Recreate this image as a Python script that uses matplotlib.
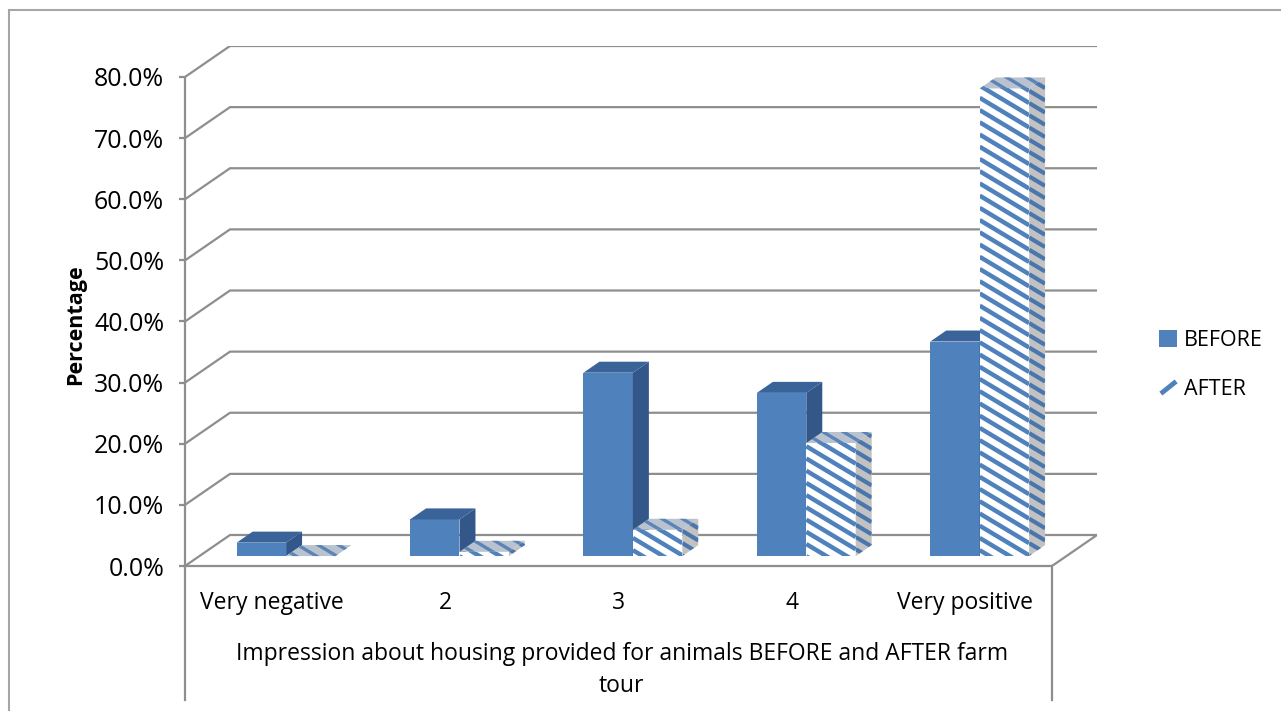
import numpy as np
import matplotlib.pyplot as plt
from matplotlib.patches import Polygon, Rectangle, Patch
from matplotlib.lines import Line2D
from matplotlib.collections import LineCollection

categories = ["Very negative", "2", "3", "4", "Very positive"]
before = [2.2, 6.0, 30.0, 26.7, 35.1]
after = [0.0, 0.7, 4.3, 18.5, 76.5]
series_names = ["BEFORE", "AFTER"]
y_ticks = [0, 10, 20, 30, 40, 50, 60, 70, 80]
y_tick_labels = ["%.1f%%" % v for v in y_ticks]
x_title = "Impression about housing provided for animals BEFORE and AFTER farm\ntour"

plt.rcParams['font.family'] = ['Open Sans', 'DejaVu Sans']

BLUE = '#4F81BD'
BLUE_SIDE = '#34578A'
BLUE_TOP = '#3A6399'
GRID = '#8E8E8E'

W, H = 1281, 711
fig = plt.figure(figsize=(W / 100, H / 100), dpi=100)
left, right, bottom, top = 185, 1097, 566, 46
ax = fig.add_axes([left / W, 1 - bottom / H, (right - left) / W, (bottom - top) / H])

# fake 3d: depth of the floor in data units
dx, dy = 0.2595, 5.07
t0, td = 0.32, 0.355   # where the bars start in depth, and how deep they are
bw = 0.285
ax.set_xlim(-0.5, 4.5 + dx)
ax.set_ylim(0, 80 + dy)

for s in ['top', 'right']:
    ax.spines[s].set_visible(False)
ax.spines['left'].set_bounds(0, 80)
ax.spines['bottom'].set_bounds(-0.5, 4.5)
for s in ['left', 'bottom']:
    ax.spines[s].set_color(GRID)
    ax.spines[s].set_linewidth(1.6)

# walls
for v in y_ticks:
    ax.plot([-0.5, -0.5 + dx, 4.5 + dx], [v, v + dy, v + dy], color=GRID, lw=1.6, zorder=1)
ax.plot([4.5, 4.5 + dx], [0, dy], color=GRID, lw=1.6, zorder=1)
for xv in [-0.5, 4.5]:
    ax.plot([xv, xv], [0, -22], color=GRID, lw=1.6, clip_on=False)


def stripes(patch, color, lw):
    xy = patch.get_xy() if isinstance(patch, Polygon) else patch.get_bbox().get_points()
    xy = np.asarray(xy)
    x0, x1 = xy[:, 0].min(), xy[:, 0].max()
    y0, y1 = xy[:, 1].min(), xy[:, 1].max()
    slope, period = -17.0, 2.0
    k0 = int(np.floor((y0 - slope * x0) / period)) - 1
    k1 = int(np.ceil((y1 - slope * x1) / period)) + 1
    segs = [[(x0, k * period + slope * x0), (x1, k * period + slope * x1)]
            for k in range(k0, k1 + 1)]
    lc = LineCollection(segs, colors=color, linewidths=lw, zorder=patch.get_zorder() + 0.001)
    ax.add_collection(lc)
    lc.set_clip_path(patch)


def bar3d(xl, v, z, after_style):
    yb = t0 * dy
    xr = xl + bw
    yt = yb + v
    ddx, ddy = td * dx, td * dy
    if after_style:
        fc = ['white', '#C2C2C2', '#B9C3D0']
    else:
        fc = [BLUE, BLUE_SIDE, BLUE_TOP]
    front = ax.bar(xl, v, width=bw, bottom=yb, align='edge', color=fc[0], zorder=z)[0]
    side = Polygon([(xr, yb), (xr + ddx, yb + ddy), (xr + ddx, yt + ddy), (xr, yt)],
                   closed=True, facecolor=fc[1], edgecolor='none', zorder=z)
    topf = Polygon([(xl, yt), (xl + ddx, yt + ddy), (xr + ddx, yt + ddy), (xr, yt)],
                   closed=True, facecolor=fc[2], edgecolor='none', zorder=z)
    ax.add_patch(side)
    ax.add_patch(topf)
    if after_style:
        if v > 0:
            stripes(front, BLUE, 3.2)
        stripes(side, '#4A76AE', 3.0)
        stripes(topf, '#5C84B6', 2.4)


for i in range(len(categories)):
    for s, vals in enumerate([before, after]):
        xl = i - bw + s * bw + t0 * dx
        bar3d(xl, vals[i], 3 + i * 0.1 + s * 0.05, s == 1)

ax.set_yticks(y_ticks)
ax.set_yticklabels(y_tick_labels)
ax.set_xticks(range(len(categories)))
ax.set_xticklabels(categories)
ax.tick_params(axis='y', length=4, width=1.6, color=GRID, pad=11, labelsize=18)
ax.tick_params(axis='x', length=0, pad=18, labelsize=16.5)

ax.set_ylabel("Percentage", fontsize=15.5, fontweight='bold')
ax.yaxis.set_label_coords(-0.108, 0.4635)
ax.set_xlabel(x_title, fontsize=16.5, linespacing=1.4)
ax.xaxis.set_label_coords(0.479, -0.147)

handles = [Patch(facecolor=BLUE, edgecolor='none'),
           Line2D([], [], lw=0, marker=[(-1, -0.8), (1, 0.8)], markersize=11,
                  markeredgewidth=3.5, markeredgecolor=BLUE)]
fig.legend(handles, series_names, loc='center left', bbox_to_anchor=(1148 / W, 1 - 365 / H),
           frameon=False, fontsize=15.5, handlelength=0.85, handleheight=0.85,
           handletextpad=0.3, labelspacing=1.3, borderpad=0)

fig.add_artist(Rectangle((9 / W, -0.5), 2, 1 - 10 / H + 0.5, transform=fig.transFigure,
                         fill=False, edgecolor='#A6A6A6', lw=1.5))

fig.savefig('out.png', dpi=100)
